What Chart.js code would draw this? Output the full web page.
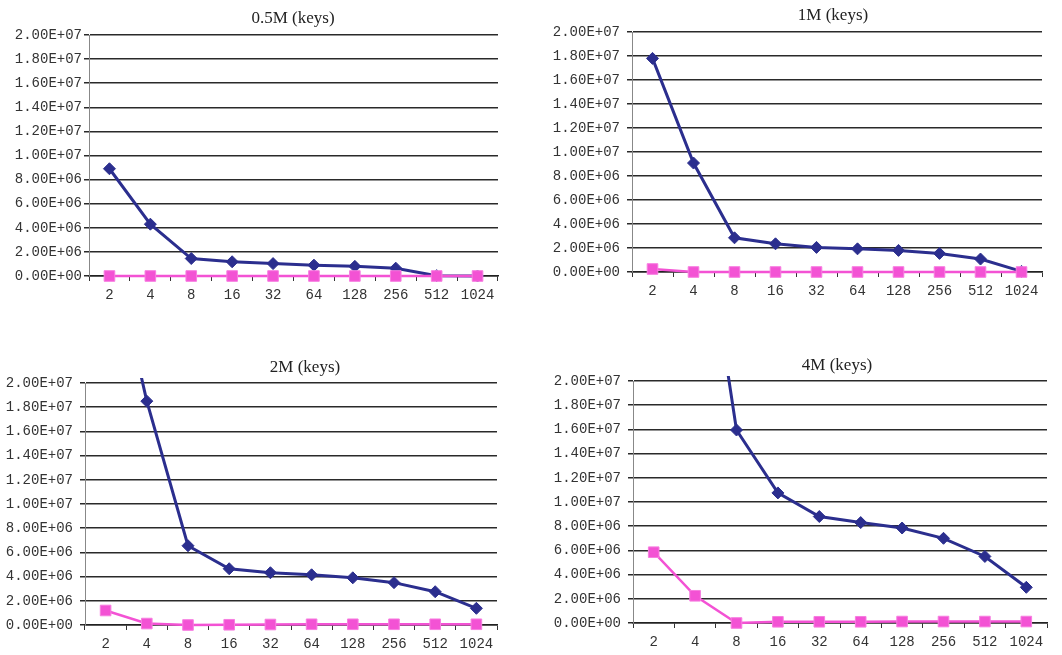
<!DOCTYPE html>
<html>
<head>
<meta charset="utf-8">
<script src="https://cdn.jsdelivr.net/npm/chart.js@4/dist/chart.umd.min.js"></script>
<style>
  html, body { margin: 0; padding: 0; background: #fff; }
  #wrap { position: relative; width: 1062px; height: 655px; overflow: hidden; background: #fff; }
  .panel { position: absolute; }
  .title {
    position: absolute; transform: translate(-50%, -50%);
    font-family: "Liberation Serif", "DejaVu Serif", serif; font-size: 17px; color: #222;
    white-space: nowrap;
  }
</style>
</head>
<body>
<div id="wrap"></div>
<script>
// Key counts along the x axis
const xLabels = ['2', '4', '8', '16', '32', '64', '128', '256', '512', '1024'];
// Y axis tick labels, 0 to 2e7 in steps of 2e6
const yTickLabels = ['0.00E+00', '2.00E+06', '4.00E+06', '6.00E+06', '8.00E+06',
  '1.00E+07', '1.20E+07', '1.40E+07', '1.60E+07', '1.80E+07', '2.00E+07'];
const panelTitles = ['0.5M (keys)', '1M (keys)', '2M (keys)', '4M (keys)'];

// 0.5M keys
const blueHalfM = [8.9e6, 4.3e6, 1.45e6, 1.18e6, 1.03e6, 0.9e6, 0.8e6, 0.65e6, 0.03e6, 0];
const pinkHalfM = [0, 0, 0, 0, 0, 0, 0, 0, 0, 0];
// 1M keys
const blue1M = [17.8e6, 9.08e6, 2.85e6, 2.35e6, 2.05e6, 1.93e6, 1.8e6, 1.55e6, 1.08e6, 0.05e6];
const pink1M = [0.25e6, 0, 0, 0, 0, 0, 0, 0, 0, 0];
// 2M keys
const blue2M = [33.5e6, 18.5e6, 6.55e6, 4.65e6, 4.32e6, 4.15e6, 3.9e6, 3.5e6, 2.75e6, 1.38e6];
const pink2M = [1.2e6, 0.12e6, 0, 0.02e6, 0.04e6, 0.06e6, 0.06e6, 0.06e6, 0.06e6, 0.06e6];
// 4M keys
const blue4M = [50e6, 38.5e6, 15.95e6, 10.75e6, 8.8e6, 8.3e6, 7.85e6, 7.0e6, 5.5e6, 2.95e6];
const pink4M = [5.85e6, 2.25e6, 0, 0.1e6, 0.1e6, 0.1e6, 0.12e6, 0.12e6, 0.12e6, 0.12e6];

const NAVY = '#2b2e8e';
const PINK = '#f352d4';
const MONO = '"Liberation Mono", "DejaVu Sans Mono", monospace';

// Panel boxes: canvas placement and plot-area edges (page pixels)
const panels = [
  { cx: 0,   cy: 0,   cw: 531, ch: 327, left: 89,  right: 498,  top: 35,  bottom: 276, tx: 293, ty: 18,  lpad: 2, blue: blueHalfM, pink: pinkHalfM },
  { cx: 531, cy: 0,   cw: 531, ch: 327, left: 632, right: 1042, top: 32,  bottom: 272, tx: 833, ty: 15,  lpad: 7, blue: blue1M, pink: pink1M },
  { cx: 0,   cy: 327, cw: 531, ch: 328, left: 85,  right: 497,  top: 383, bottom: 625, tx: 305, ty: 367, lpad: 7, blue: blue2M, pink: pink2M },
  { cx: 531, cy: 327, cw: 531, ch: 328, left: 633, right: 1047, top: 381, bottom: 623, tx: 837, ty: 365, lpad: 7, blue: blue4M, pink: pink4M }
];

const wrap = document.getElementById('wrap');

panels.forEach((p, i) => {
  const box = document.createElement('div');
  box.className = 'panel';
  box.style.left = p.cx + 'px';
  box.style.top = p.cy + 'px';
  box.style.width = p.cw + 'px';
  box.style.height = p.ch + 'px';
  const canvas = document.createElement('canvas');
  box.appendChild(canvas);
  wrap.appendChild(box);

  const title = document.createElement('div');
  title.className = 'title';
  title.textContent = panelTitles[i];
  title.style.left = p.tx + 'px';
  title.style.top = p.ty + 'px';
  wrap.appendChild(title);

  const yWidth = p.left - p.cx;
  const xHeight = p.cy + p.ch - p.bottom;

  new Chart(canvas, {
    type: 'line',
    data: {
      labels: xLabels,
      datasets: [
        {
          data: p.blue,
          borderColor: NAVY,
          backgroundColor: NAVY,
          borderWidth: 3,
          pointStyle: 'rectRot',
          pointRadius: 6,
          pointBorderWidth: 1,
          pointBorderColor: NAVY,
          tension: 0,
          order: 1,
          clip: { left: 6, right: 6, top: 5, bottom: 6 }
        },
        {
          data: p.pink,
          borderColor: PINK,
          backgroundColor: PINK,
          borderWidth: 2.5,
          pointStyle: 'rect',
          pointRadius: 7.5,
          pointBorderWidth: 1,
          pointBorderColor: '#f77ee0',
          tension: 0,
          order: 0,
          clip: { left: 8, right: 8, top: 5, bottom: 8 }
        }
      ]
    },
    options: {
      responsive: true,
      maintainAspectRatio: false,
      animation: false,
      devicePixelRatio: 1,
      layout: { padding: { left: 0, top: p.top - p.cy, right: p.cx + p.cw - p.right, bottom: 0 } },
      plugins: { legend: { display: false }, tooltip: { enabled: false }, title: { display: false } },
      scales: {
        x: {
          type: 'category',
          offset: true,
          afterFit: s => { s.height = xHeight; },
          grid: { offset: true, drawOnChartArea: false, drawTicks: true, tickLength: 5, color: '#333', lineWidth: 1 },
          border: { display: true, color: '#222', width: 1.5 },
          ticks: { color: '#333', font: { family: MONO, size: 14 }, padding: 6, maxRotation: 0, autoSkip: false }
        },
        y: {
          min: 0,
          max: 2e7,
          afterFit: s => { s.width = yWidth; },
          afterBuildTicks: s => { s.ticks = yTickLabels.map((_, k) => ({ value: k * 2e6 })); },
          grid: { color: '#2a2a2a', lineWidth: 1.5, drawTicks: true, tickLength: 5 },
          border: { display: true, color: '#888', width: 1 },
          ticks: {
            color: '#333',
            font: { family: MONO, size: 14 },
            padding: p.lpad,
            callback: (v) => yTickLabels[Math.round(v / 2e6)]
          }
        }
      }
    }
  });
});
</script>
</body>
</html>
